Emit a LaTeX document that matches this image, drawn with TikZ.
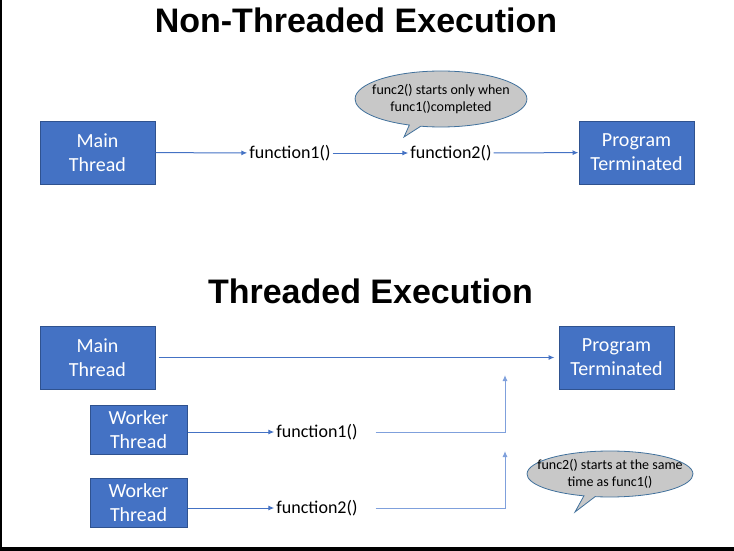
\documentclass[tikz,border=0pt]{standalone}
\usepackage{fontspec}
\setmainfont{Carlito}
\newfontfamily\headfont{Liberation Sans}
\usetikzlibrary{arrows.meta,shapes.callouts}
\definecolor{boxblue}{HTML}{4472C4}
\definecolor{boxedge}{HTML}{2F528F}
\definecolor{liteblue}{HTML}{7FA0DC}
\definecolor{bubblegray}{HTML}{C8C8C8}
\definecolor{bubbleedge}{HTML}{41719C}
\tikzset{
    heading/.style={anchor=base,font=\headfont\bfseries\fontsize{34}{40}\selectfont},
    threadbox/.style={rectangle,fill=boxblue,draw=boxedge,line width=1pt,text=white,
        align=center,inner sep=0pt,minimum width=115pt,minimum height=63pt,
        font=\fontsize{20}{24}\selectfont},
    workerbox/.style={threadbox,minimum width=97pt,minimum height=49pt},
    func/.style={inner sep=2pt,font=\fontsize{18}{22}\selectfont},
    bubble/.style={ellipse callout,fill=bubblegray,draw=bubbleedge,line width=0.8pt,
        align=center,inner ysep=0pt,callout pointer arc=8,
        font=\fontsize{14}{16.5}\selectfont},
    link/.style={draw=boxblue,line width=1pt,->},
    litelink/.style={draw=liteblue,line width=1pt,->}
}
\begin{document}
\begin{tikzpicture}[x=1pt,y=-1pt,>={Latex[length=6pt,width=5pt]}]
        \useasboundingbox (0,0) rectangle (734,551);
        %% frame
        \draw[line width=1.5pt] (0.75,0) -- (0.75,551);
        \fill (0,547) rectangle (734,551);
        %% non-threaded
        \node[heading] (nonhead) at (356,33) {Non-Threaded Execution};
        \node[threadbox] (mainA) at (97.5,152.5) {Main\\Thread};
        \node[func] (funcA) at (290,153) {function1()};
        \node[func] (funcB) at (451,153) {function2()};
        \node[threadbox] (endA) at (636.5,152.5) {Program\\Terminated};
        \draw[link] (mainA) -- (funcA);
        \draw[link] (funcA) -- (funcB);
        \draw[link] (funcB) -- (endA);
        \coordinate (tipA) at (404,137);
        \node[bubble,inner xsep=-8pt,minimum height=56pt,callout absolute pointer={(tipA)}]
            (noteA) at (441,99) {func2() starts only when\\func1()completed};
        %% threaded
        \node[heading] (threadhead) at (370.5,303) {Threaded Execution};
        \node[threadbox] (mainB) at (97.5,357.5) {Main\\Thread};
        \node[threadbox] (endB) at (616.5,357.5) {Program\\Terminated};
        \draw[link,shorten <=3pt,shorten >=4pt] (mainB) -- (endB);
        \node[workerbox] (workA) at (138.5,430) {Worker\\Thread};
        \node[workerbox] (workB) at (138.5,502.5) {Worker\\Thread};
        \node[func] (funcC) at (317,432) {function1()};
        \node[func] (funcD) at (317,508) {function2()};
        \foreach \w/\f/\y in {workA/funcC/375,workB/funcD/451}{
            \coordinate (up\f) at (505,\y);
            \draw[link] (\w.east |- \f.west) -- (\f.west);
            \draw[litelink,shorten <=16pt] (\f.east) -| (up\f);
        }
        \coordinate (tipB) at (575,512);
        \node[bubble,inner xsep=-14pt,minimum height=46pt,callout absolute pointer={(tipB)}]
            (noteB) at (610,474) {func2() starts at the same\\time as func1()};
    \end{tikzpicture}
\end{document}
